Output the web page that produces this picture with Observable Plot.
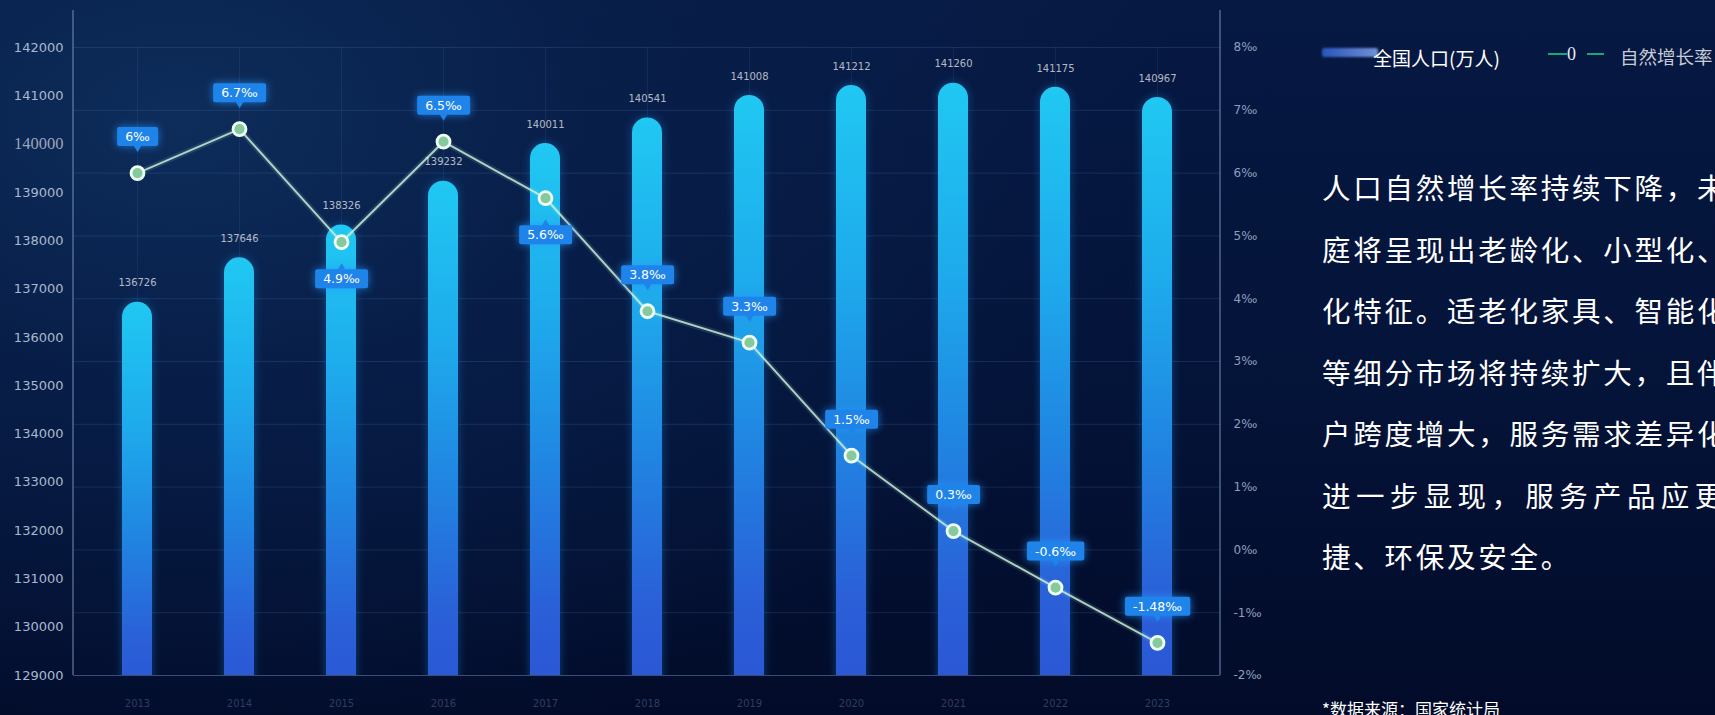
<!DOCTYPE html>
<html>
<head>
<meta charset="utf-8">
<script src="https://cdn.jsdelivr.net/npm/d3@7"></script>
<script src="https://cdn.jsdelivr.net/npm/@observablehq/plot@0.6"></script>
<style>
html, body { margin: 0; padding: 0; width: 1715px; height: 715px; overflow: hidden; }
body {
  font-family: "Noto Sans CJK SC", "Noto Sans", sans-serif;
  background:
    radial-gradient(ellipse 1000px 650px at 180px 120px, rgba(14,46,92,0.95) 0%, rgba(9,34,78,0.7) 40%, rgba(4,18,52,0) 100%),
    linear-gradient(180deg, #061943 0%, #041338 55%, #020b29 100%);
}
#wrap { position: relative; width: 1715px; height: 715px; }
#chart { position: absolute; left: 0; top: 0; }
.legend-bar { position: absolute; left: 1322px; top: 48px; width: 56px; height: 9px;
  background: linear-gradient(90deg, #2e5cc8, #7d9fe6); filter: blur(1.2px); opacity: 0.9; border-radius: 2px; }
.legend-text1 { position: absolute; left: 1373px; top: 44px; font-size: 19px; line-height: 28px; color: #ffffff; white-space: nowrap; }
.legend-line { position: absolute; top: 53px; height: 2px; background: #18a878; }
.legend-zero { position: absolute; left: 1567px; top: 42px; font-family: "Liberation Serif", serif; font-size: 18px; line-height: 24px; color: #e6ecf5; }
.legend-text2 { position: absolute; left: 1620px; top: 42px; font-size: 18.5px; line-height: 28px; color: #c6cbd6; white-space: nowrap; }
#para { position: absolute; left: 1322px; top: 156px; }
#para div { width: 469px; font-size: 28.5px; line-height: 61.5px; height: 61.5px; color: #ffffff; white-space: nowrap; letter-spacing: 2.75px; }
#para div.j { text-align: justify; text-align-last: justify; letter-spacing: 0; }
#source { position: absolute; left: 1322px; top: 697px; font-size: 17px; line-height: 24px; color: #ffffff; white-space: nowrap; }
</style>
</head>
<body>
<div id="wrap">
  <div id="chart"></div>
  <div class="legend-bar"></div>
  <div class="legend-text1" id="lt1"></div>
  <div class="legend-line" style="left:1548px;width:19px;"></div>
  <div class="legend-zero">0</div>
  <div class="legend-line" style="left:1587px;width:17px;"></div>
  <div class="legend-text2" id="lt2"></div>
  <div id="para"></div>
  <div id="source"></div>
</div>
<script>
// ---------- data ----------
const years = [2013, 2014, 2015, 2016, 2017, 2018, 2019, 2020, 2021, 2022, 2023];
const population = [136726, 137646, 138326, 139232, 140011, 140541, 141008, 141212, 141260, 141175, 140967];
const growthRate = [6, 6.7, 4.9, 6.5, 5.6, 3.8, 3.3, 1.5, 0.3, -0.6, -1.48];
const rateLabels = ["6‰", "6.7‰", "4.9‰", "6.5‰", "5.6‰", "3.8‰", "3.3‰", "1.5‰", "0.3‰", "-0.6‰", "-1.48‰"];
const popTicks = [129000, 130000, 131000, 132000, 133000, 134000, 135000, 136000, 137000, 138000, 139000, 140000, 141000, 142000];
const rateTicks = [-2, -1, 0, 1, 2, 3, 4, 5, 6, 7, 8];
const legendLabels = ["全国人口(万人)", "自然增长率"];
const noteLines = [
  "人口自然增长率持续下降，未来家",
  "庭将呈现出老龄化、小型化、多元",
  "化特征。适老化家具、智能化家居",
  "等细分市场将持续扩大，且伴随用",
  "户跨度增大，服务需求差异化将",
  "进一步显现，服务产品应更加便",
  "捷、环保及安全。"
];
const sourceText = "*数据来源：国家统计局";

// ---------- dual-axis mapping ----------
const popMin = popTicks[0], popMax = popTicks[popTicks.length - 1];
const rateMin = rateTicks[0], rateMax = rateTicks[rateTicks.length - 1];
const toPop = r => popMin + (r - rateMin) * (popMax - popMin) / (rateMax - rateMin);
const toRate = p => rateMin + (p - popMin) * (rateMax - rateMin) / (popMax - popMin);

const data = years.map((year, i) => ({
  year, pop: population[i], rate: growthRate[i], ratePos: toPop(growthRate[i]), label: rateLabels[i]
}));
const labelBelow = new Set([2015, 2017]);
const serifTick = 140000; // this one tick label is drawn in a serif face in the source image

const plot = Plot.plot({
  width: 1300,
  height: 715,
  marginLeft: 73,
  marginRight: 80,
  marginTop: 47,
  marginBottom: 40,
  style: { background: "transparent", overflow: "visible", fontFamily: "DejaVu Sans, sans-serif" },
  x: { type: "band", domain: years, paddingInner: 0.707, paddingOuter: 0.47, label: null },
  y: { domain: [popMin, popMax], label: null },
  marks: [
    Plot.gridY(rateTicks.map(toPop), { stroke: "#5a86c8", strokeOpacity: 0.2 }),
    Plot.gridX(years, { stroke: "#5a86c8", strokeOpacity: 0.13 }),
    Plot.barY(data, { x: "year", y1: popMin - 1000, y2: "pop", rx: 15, fill: "url(#barGrad)", clip: true, ariaLabel: () => "pop-bar" }),
    Plot.ruleY([popMin], { stroke: "#6b7fa6", strokeOpacity: 0.45 }),
    Plot.text(data, { x: "year", y: "pop", text: d => String(d.pop), dy: -19, fill: "#ffffff", fillOpacity: 0.7, fontSize: 10 }),
    Plot.line(data, { x: "year", y: "ratePos", stroke: "#a8f0c8", strokeWidth: 6, strokeOpacity: 0.12 }),
    Plot.line(data, { x: "year", y: "ratePos", stroke: "#d6f5e2", strokeWidth: 2, strokeOpacity: 0.8 }),
    Plot.dot(data, { x: "year", y: "ratePos", r: 6.5, fill: "#86c99c", stroke: "#effff5", strokeWidth: 2.8 }),
    Plot.text(data, { filter: d => !labelBelow.has(d.year), x: "year", y: "ratePos", text: "label", dy: -36, fill: "#ffffff", fontSize: 12.5, ariaLabel: () => "rate-label-above" }),
    Plot.text(data, { filter: d => labelBelow.has(d.year), x: "year", y: "ratePos", text: "label", dy: 37, fill: "#ffffff", fontSize: 12.5, ariaLabel: () => "rate-label-below" }),
    Plot.axisY(popTicks.filter(t => t !== serifTick), { anchor: "left", tickSize: 0, tickPadding: 10, color: "#aab8cf", fontSize: 13, label: null, tickFormat: d => String(d) }),
    Plot.axisY([serifTick], { anchor: "left", tickSize: 0, tickPadding: 10, color: "#9ba6ba", fontSize: 16.5, fontFamily: "Liberation Serif, serif", label: null, tickFormat: d => String(d) }),
    Plot.axisY(rateTicks.map(toPop), { anchor: "right", tickSize: 0, tickPadding: 13, color: "#8e9fbd", fontSize: 12, label: null, tickFormat: p => `${Math.round(toRate(p))}‰` }),
    Plot.axisX(years, { anchor: "bottom", tickSize: 0, tickPadding: 24, color: "#2c3e62", fontSize: 10, label: null, tickFormat: d => String(d) })
  ]
});

document.getElementById("chart").appendChild(plot);

// ---------- decoration using the plot's own scales ----------
const svg = d3.select(plot);
const defs = svg.insert("defs", ":first-child");
const grad = defs.append("linearGradient").attr("id", "barGrad").attr("x1", 0).attr("y1", 0).attr("x2", 0).attr("y2", 1);
[[0, "#20c8f2"], [0.3, "#1eaaec"], [0.55, "#2086e2"], [0.8, "#2a60d8"], [1, "#2c52d4"]].forEach(([o, c]) =>
  grad.append("stop").attr("offset", o).attr("stop-color", c));

svg.selectAll('[aria-label="pop-bar"]').style("filter", "drop-shadow(0 0 5px rgba(30,160,255,0.35))");

const xs = plot.scale("x"), ys = plot.scale("y");
const yScale = v => ys.range[0] + (v - ys.domain[0]) * (ys.range[1] - ys.range[0]) / (ys.domain[1] - ys.domain[0]);
const yBottom = yScale(popMin), yTopAxis = yScale(popMax) - 37;
[xs.range[0], xs.range[1]].forEach(x => {
  svg.append("line").attr("x1", x).attr("x2", x).attr("y1", yTopAxis).attr("y2", yBottom)
    .attr("stroke", "#7890b8").attr("stroke-opacity", 0.7).attr("stroke-width", 1.4);
});

// label boxes with pointers, sized from the rendered label text
function boxLabels(label, below) {
  svg.selectAll(`text[aria-label="${label}"]`).each(function () {
    const bb = this.getBBox();
    const tr = this.getAttribute("transform");
    const parent = this.parentNode;
    const padX = 8, padY = 2;
    const ns = "http://www.w3.org/2000/svg";
    const rect = document.createElementNS(ns, "rect");
    rect.setAttribute("x", bb.x - padX);
    rect.setAttribute("y", bb.y - padY);
    rect.setAttribute("width", bb.width + 2 * padX);
    rect.setAttribute("height", bb.height + 2 * padY);
    rect.setAttribute("rx", 2);
    rect.setAttribute("fill", "#1f84ea");
    rect.setAttribute("style", "filter: drop-shadow(0 0 4px rgba(40,150,255,0.7))");
    if (tr) rect.setAttribute("transform", tr);
    const cx = bb.x + bb.width / 2;
    const tri = document.createElementNS(ns, "path");
    if (!below) {
      const y0 = bb.y + bb.height + padY;
      tri.setAttribute("d", `M${cx - 4},${y0 - 0.5}L${cx + 4},${y0 - 0.5}L${cx},${y0 + 6}Z`);
    } else {
      const y0 = bb.y - padY;
      tri.setAttribute("d", `M${cx - 4},${y0 + 0.5}L${cx + 4},${y0 + 0.5}L${cx},${y0 - 6}Z`);
    }
    tri.setAttribute("fill", "#1f84ea");
    if (tr) tri.setAttribute("transform", tr);
    parent.insertBefore(rect, this);
    parent.insertBefore(tri, this);
  });
}
boxLabels("rate-label-above", false);
boxLabels("rate-label-below", true);

// ---------- side panel text ----------
document.getElementById("lt1").textContent = legendLabels[0];
document.getElementById("lt2").textContent = legendLabels[1];
const para = document.getElementById("para");
noteLines.forEach((t, i) => {
  const d = document.createElement("div");
  d.textContent = t;
  if (i === 5) d.className = "j";
  para.appendChild(d);
});
document.getElementById("source").textContent = sourceText;
</script>
</body>
</html>
